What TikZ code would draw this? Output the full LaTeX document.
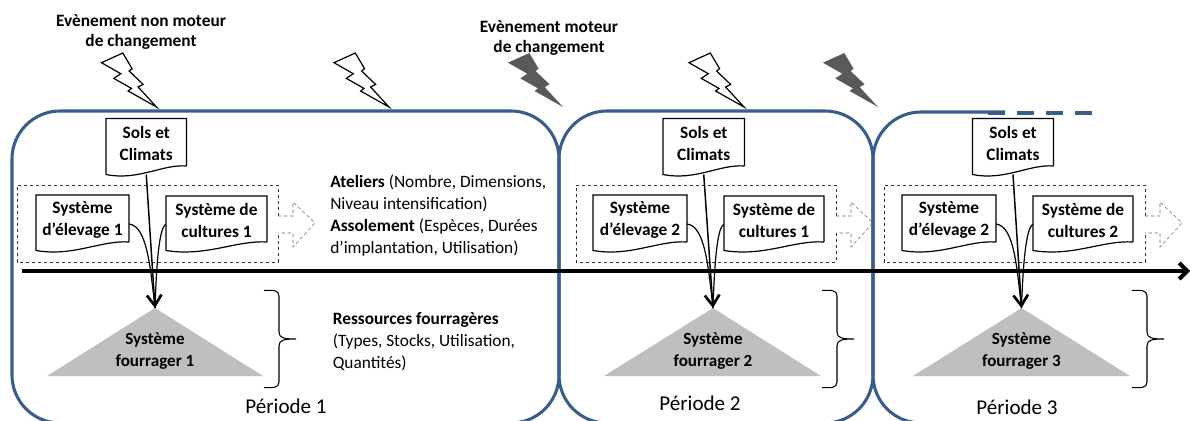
\documentclass[tikz,border=0pt]{standalone}
\usepackage{fontspec}
\setmainfont{Carlito}
\usetikzlibrary{arrows.meta}
\definecolor{periodblue}{HTML}{385D8A}
\definecolor{boltgrey}{HTML}{595959}
\definecolor{trianglegrey}{HTML}{BFBFBF}

% document shape with a wavy foot: name, left, right, top, bottom, text
\newcommand{\docnode}[6]{
	\node [docblock, minimum width={(#3-#2)*0.75pt}, minimum height={(#5-#4)*0.75pt}] (#1) at ({(#2+#3)/2},{(#4+#5)/2+1.5}) {#6};
	\draw [docline] (#3,#5) -- (#3,#4) -- (#2,#4) -- (#2,#5+8.5)
		.. controls ({#2+0.4*(#3-#2)},#5+15) and ({#3-0.3*(#3-#2)},#5-2) .. (#3,#5);
	\coordinate (#1foot) at ({(#2+#3)/2},#5+8.5);
}
\newcommand{\boltpath}{(-55,-44.3) -- (-33.7,-54) -- (-24.4,-38.3) -- (-27.4,-36) -- (-13.4,-22.6) -- (-18.4,-20) -- (0,0) -- (-28.4,-16) -- (-25,-18.6) -- (-42.7,-28.6) -- (-35.7,-33.3) -- cycle}

\begin{document}
\begin{tikzpicture}[x=0.75pt,y=-0.75pt]
		% Define styles
		\tikzstyle{docblock} = [align=center, font=\fontsize{13}{16.3}\selectfont\bfseries, inner sep=0pt, outer sep=0pt]
		\tikzstyle{docline} = [line width=0.9pt, line join=miter]
		\tikzstyle{period} = [draw=periodblue, line width=2.3pt, rounded corners=36pt]
		\tikzstyle{dashbox} = [draw=black!80, line width=0.4pt, dash pattern=on 2.5pt off 2pt]
		\tikzstyle{nextarrow} = [draw=black!60, line width=0.4pt, dash pattern=on 2.5pt off 2pt]
		\tikzstyle{boltwhite} = [draw, line width=0.9pt, line join=miter]
		\tikzstyle{boltdark} = [fill=boltgrey]
		\tikzstyle{triangle} = [fill=trianglegrey]
		\tikzstyle{label} = [font=\fontsize{13}{16.3}\selectfont, align=left, inner sep=0pt, anchor=west]
		\tikzstyle{eventlabel} = [font=\fontsize{13}{15.5}\selectfont\bfseries, align=center, inner sep=0pt]
		\tikzstyle{periodlabel} = [font=\fontsize{15.8}{18}\selectfont, inner sep=0pt]
		\tikzstyle{trilabel} = [font=\fontsize{12.8}{16}\selectfont\bfseries, align=center, inner sep=0pt]
		\tikzstyle{bracket} = [line width=0.8pt]
		\tikzstyle{inflow} = [line width=0.9pt]
		\tikzstyle{arrow} = [line width=1.1pt,-{Straight Barb[length=8pt,width=11pt,line width=2pt]}]
		\tikzstyle{timeline} = [line width=3pt,-{Straight Barb[length=6pt,width=12pt]}]

		\useasboundingbox (0,0) rectangle (1190,421);

		% Periods
		\draw [period] (12,111) rectangle (559,423);
		\draw [period] (559,111) rectangle (873,423);
		\draw [period] (960,423) -- (873,423) -- (873,112) -- (1005,112);
		\draw [draw=periodblue, line width=3pt, dash pattern=on 12.75pt off 9pt] (988,112.5) -- (1092,112.5);

		% Bolts
		\foreach \tipx in {156.5,389,744}
			\draw [boltwhite, fill=white, shift={(\tipx,107)}] \boltpath;
		\foreach \tipx in {563,878}
			\fill [boltdark, shift={(\tipx,107)}] \boltpath;
		\node [eventlabel] (nonmoteur) at (141,32) {Evènement non moteur\\de changement};
		\node [eventlabel] (moteur) at (549,38) {Evènement moteur\\de changement};

		% Dashed frames and their outgoing arrows
		\foreach \left/\right in {17/278,576/836,884/1145} {
			\draw [dashbox] (\right,216) -- (\right,185) -- (\left,185) -- (\left,262) -- (\right,262) -- (\right,233);
			\draw [nextarrow] (\right,216) -- (\right+15,216) -- (\right+15,202) -- (\right+37,223) -- (\right+15,247) -- (\right+15,233) -- (\right,233);
		}

		% Triangles
		\coordinate (apex1) at (155,308);
		\coordinate (apex2) at (713,308);
		\coordinate (apex3) at (1021.5,308);
		\fill [triangle] (apex1) -- (263,376) -- (47,376) -- cycle;
		\fill [triangle] (apex2) -- (821,376) -- (604,376) -- cycle;
		\fill [triangle] (apex3) -- (1130,376) -- (913,376) -- cycle;
		\node [trilabel] (fourrager1) at (155,351) {Système\\fourrager 1};
		\node [trilabel] (fourrager2) at (713,351) {Système\\fourrager 2};
		\node [trilabel] (fourrager3) at (1021.5,351) {Système\\fourrager 3};

		% Document boxes
		\docnode{sols1}{106}{186.5}{118.5}{166}{Sols et\\Climats}
		\docnode{sols2}{663}{744.5}{118.5}{166}{Sols et\\Climats}
		\docnode{sols3}{972.5}{1053.5}{118.5}{166}{Sols et\\Climats}
		\docnode{elevage1}{36}{129}{195}{242}{Système\\d’élevage 1}
		\docnode{cultures1}{166}{267}{196}{242}{Système de\\cultures 1}
		\docnode{elevage2}{593}{687}{195}{242}{Système\\d’élevage 2}
		\docnode{cultures2}{724}{824}{196}{242}{Système de\\cultures 1}
		\docnode{elevage3}{902}{996}{195}{242}{Système\\d’élevage 2}
		\docnode{cultures3}{1033}{1133}{196}{242}{Système de\\cultures 2}

		% Flows into the triangles
		\foreach \n in {1,2,3} {
			\draw [inflow] ([yshift=-3pt]elevage\n.east) .. controls +(18,2) and ([xshift=-3.5pt,yshift=31pt]apex\n) .. (apex\n);
			\draw [inflow] ([yshift=-3pt]cultures\n.west) .. controls +(-7,2) and ([xshift=1pt,yshift=31pt]apex\n) .. (apex\n);
		}
		\draw [arrow] (sols1foot) -- (apex1);
		\draw [arrow] (sols2foot) -- (apex2);
		\draw [arrow] (sols3foot) -- (apex3);

		% Time line
		\coordinate (timestart) at (22,271);
		\coordinate (timeend) at (1190,271);
		\draw [timeline] (timestart) -- (timeend);

		% Brackets
		\foreach \x in {264,822,1132}
			\draw [bracket] (\x,290.5) .. controls (\x+9,290) and (\x+15,290) .. (\x+15,296) -- (\x+15,332) .. controls (\x+15,338) and (\x+20,339) .. (\x+32,339) .. controls (\x+20,339) and (\x+15,340) .. (\x+15,346) -- (\x+15,382) .. controls (\x+15,388) and (\x+9,388) .. (\x,387.5);

		% Side texts
		\node [label] (ateliers) at (330,215.5) {\textbf{Ateliers} (Nombre, Dimensions,\\Niveau intensification)\\\textbf{Assolement} (Espèces, Durées\\d’implantation, Utilisation)};
		\node [label] (ressources) at (332.5,341.5) {\textbf{Ressources fourragères}\\(Types, Stocks, Utilisation,\\Quantités)};

		% Period names
		\node [periodlabel] (periode1) at (286,406) {Période 1};
		\node [periodlabel] (periode2) at (700,403) {Période 2};
		\node [periodlabel] (periode3) at (1017,407) {Période 3};
	\end{tikzpicture}
\end{document}
